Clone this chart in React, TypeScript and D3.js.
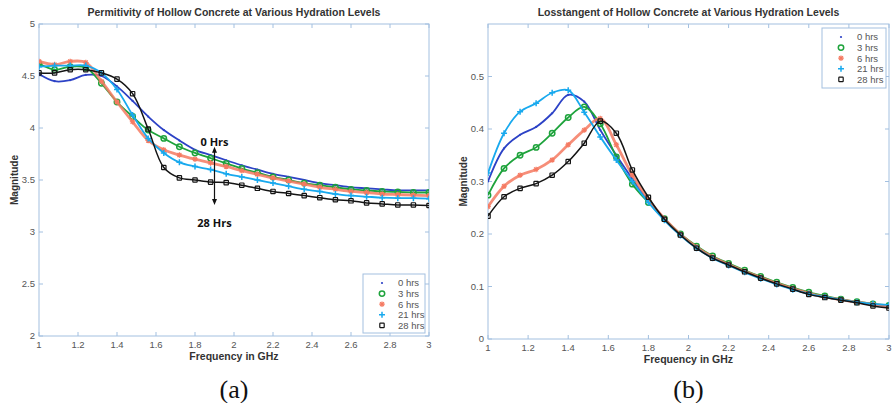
import * as d3 from "d3";
import React from "react";

// frequency grid shared by every curve (GHz)
const freqGHz = [1.0, 1.08, 1.16, 1.24, 1.32, 1.4, 1.48, 1.56, 1.64, 1.72, 1.8, 1.88, 1.96, 2.04, 2.12, 2.2, 2.28, 2.36, 2.44, 2.52, 2.6, 2.68, 2.76, 2.84, 2.92, 3.0];
const hydrationLabels = ["0 hrs", "3 hrs", "6 hrs", "21 hrs", "28 hrs"];

// (a) permittivity
const perm0 = [4.52, 4.45, 4.46, 4.51, 4.5, 4.4, 4.26, 4.11, 3.98, 3.88, 3.79, 3.74, 3.69, 3.64, 3.6, 3.56, 3.53, 3.5, 3.47, 3.45, 3.43, 3.42, 3.41, 3.4, 3.4, 3.4];
const perm3 = [4.62, 4.56, 4.59, 4.58, 4.43, 4.25, 4.11, 3.98, 3.9, 3.82, 3.76, 3.71, 3.66, 3.61, 3.57, 3.53, 3.5, 3.47, 3.45, 3.43, 3.41, 3.4, 3.39, 3.385, 3.38, 3.38];
const perm6 = [4.64, 4.61, 4.64, 4.63, 4.45, 4.25, 4.06, 3.88, 3.79, 3.74, 3.7, 3.665, 3.63, 3.59, 3.555, 3.52, 3.49, 3.46, 3.43, 3.41, 3.39, 3.38, 3.365, 3.36, 3.355, 3.35];
const perm21 = [4.59, 4.6, 4.6, 4.6, 4.53, 4.37, 4.125, 3.9, 3.76, 3.67, 3.63, 3.6, 3.56, 3.53, 3.5, 3.47, 3.44, 3.41, 3.39, 3.365, 3.35, 3.34, 3.33, 3.325, 3.325, 3.32];
const perm28 = [4.53, 4.53, 4.56, 4.56, 4.53, 4.47, 4.33, 3.99, 3.62, 3.52, 3.5, 3.48, 3.475, 3.45, 3.42, 3.39, 3.37, 3.35, 3.33, 3.31, 3.3, 3.28, 3.27, 3.26, 3.26, 3.255];

// (b) loss tangent
const loss0 = [0.3, 0.363, 0.389, 0.404, 0.43, 0.465, 0.452, 0.398, 0.35, 0.305, 0.262, 0.228, 0.199, 0.175, 0.156, 0.142, 0.129, 0.117, 0.106, 0.096, 0.087, 0.08, 0.075, 0.07, 0.066, 0.063];
const loss3 = [0.274, 0.325, 0.35, 0.365, 0.392, 0.422, 0.442, 0.41, 0.347, 0.295, 0.26, 0.229, 0.2, 0.177, 0.158, 0.144, 0.131, 0.119, 0.108, 0.098, 0.089, 0.082, 0.076, 0.071, 0.067, 0.064];
const loss6 = [0.252, 0.291, 0.312, 0.323, 0.341, 0.37, 0.398, 0.42, 0.37, 0.312, 0.266, 0.229, 0.199, 0.175, 0.156, 0.142, 0.129, 0.117, 0.106, 0.096, 0.087, 0.08, 0.075, 0.07, 0.066, 0.062];
const loss21 = [0.316, 0.392, 0.433, 0.449, 0.469, 0.474, 0.432, 0.385, 0.341, 0.3, 0.26, 0.226, 0.197, 0.173, 0.154, 0.14, 0.127, 0.115, 0.104, 0.094, 0.086, 0.08, 0.075, 0.07, 0.067, 0.065];
const loss28 = [0.234, 0.271, 0.287, 0.296, 0.312, 0.338, 0.373, 0.415, 0.392, 0.322, 0.27, 0.228, 0.198, 0.173, 0.154, 0.141, 0.128, 0.116, 0.105, 0.095, 0.085, 0.079, 0.074, 0.069, 0.063, 0.059];

const xTicks = [1, 1.2, 1.4, 1.6, 1.8, 2, 2.2, 2.4, 2.6, 2.8, 3];
const permTicks = [2, 2.5, 3, 3.5, 4, 4.5, 5];
const lossTicks = [0, 0.1, 0.2, 0.3, 0.4, 0.5];

const COLORS = ["#2c42c6", "#1ea33c", "#f57a62", "#18a9ee", "#141414"];
const MARKERS = ["dot", "circle", "star", "plus", "square"];
const LINE_W = [1.8, 1.8, 2.8, 1.8, 1.5];
const FRAME = "#a3c0e0";
const SANS = "'Liberation Sans', Arial, sans-serif";

function Marker({ kind, x, y, color }: { kind: string; x: number; y: number; color: string }) {
  if (kind === "dot") return <circle cx={x} cy={y} r={1.1} fill={color} />;
  if (kind === "circle") return <circle cx={x} cy={y} r={2.7} fill="none" stroke={color} strokeWidth={1.5} />;
  if (kind === "square") return <rect x={x - 2.2} y={y - 2.2} width={4.4} height={4.4} rx={0.6} fill="none" stroke={color} strokeWidth={1.2} />;
  if (kind === "plus")
    return <path d={`M${x - 3},${y}H${x + 3}M${x},${y - 3}V${y + 3}`} stroke={color} strokeWidth={1.5} />;
  // asterisk
  return (
    <path
      d={`M${x - 2.8},${y}H${x + 2.8}M${x},${y - 2.8}V${y + 2.8}M${x - 2},${y - 2}L${x + 2},${y + 2}M${x - 2},${y + 2}L${x + 2},${y - 2}`}
      stroke={color}
      strokeWidth={1.2}
    />
  );
}

type PanelProps = {
  id: string;
  x0: number; y0: number; w: number; h: number;
  yDomain: [number, number];
  yTicks: number[];
  series: number[][];
  title: string;
  legend: { x: number; y: number; w: number; h: number };
  caption: string;
  annotate?: (x: d3.ScaleLinear<number, number>, y: d3.ScaleLinear<number, number>) => React.ReactNode;
};

function Panel(p: PanelProps) {
  const x = d3.scaleLinear().domain([1, 3]).range([p.x0, p.x0 + p.w]);
  const y = d3.scaleLinear().domain(p.yDomain).range([p.y0 + p.h, p.y0]);
  const line = d3
    .line<number>()
    .x((_, i) => x(freqGHz[i]))
    .y(d => y(d))
    .curve(d3.curveCatmullRom.alpha(0.5));
  const cx = p.x0 + p.w / 2;
  const bottom = p.y0 + p.h;
  const right = p.x0 + p.w;

  return (
    <g>
      <clipPath id={`clip-${p.id}`}>
        <rect x={p.x0} y={p.y0} width={p.w} height={p.h} />
      </clipPath>
      <text x={cx} y={16} textAnchor="middle" fontFamily={SANS} fontWeight="bold" fontSize={10.5} fill="#333">
        {p.title}
      </text>

      {/* frame + ticks */}
      <rect x={p.x0} y={p.y0} width={p.w} height={p.h} fill="none" stroke={FRAME} strokeWidth={1} />
      {xTicks.map((t, i) => (
        <g key={`xt${i}`}>
          <line x1={x(t)} x2={x(t)} y1={bottom} y2={bottom - 4} stroke={FRAME} />
          <line x1={x(t)} x2={x(t)} y1={p.y0} y2={p.y0 + 4} stroke={FRAME} />
          <text x={x(t)} y={bottom + 12} textAnchor="middle" fontFamily={SANS} fontSize={9.5} fill="#555">
            {t}
          </text>
        </g>
      ))}
      {p.yTicks.map((t, i) => (
        <g key={`yt${i}`}>
          <line x1={p.x0} x2={p.x0 + 4} y1={y(t)} y2={y(t)} stroke={FRAME} />
          <line x1={right} x2={right - 4} y1={y(t)} y2={y(t)} stroke={FRAME} />
          <text x={p.x0 - 4} y={y(t)} dy="0.35em" textAnchor="end" fontFamily={SANS} fontSize={9.5} fill="#555">
            {t}
          </text>
        </g>
      ))}
      <text x={cx} y={bottom + 24} textAnchor="middle" fontFamily={SANS} fontWeight="bold" fontSize={10.5} fill="#333">
        Frequency in GHz
      </text>
      <text
        transform={`translate(${p.x0 - 21},${p.y0 + p.h / 2}) rotate(-90)`}
        textAnchor="middle"
        fontFamily={SANS}
        fontWeight="bold"
        fontSize={10}
        fill="#333"
      >
        Magnitude
      </text>

      {/* curves */}
      <g clipPath={`url(#clip-${p.id})`}>
        {p.series.map((s, k) => (
          <g key={`s${k}`}>
            <path d={line(s) || ""} fill="none" stroke={COLORS[k]} strokeWidth={LINE_W[k]} strokeOpacity={k === 2 ? 0.85 : 1} />
            {s.map((v, i) => (
              <Marker key={i} kind={MARKERS[k]} x={x(freqGHz[i])} y={y(v)} color={COLORS[k]} />
            ))}
          </g>
        ))}
      </g>

      {p.annotate && p.annotate(x, y)}

      {/* legend */}
      <rect x={p.legend.x} y={p.legend.y} width={p.legend.w} height={p.legend.h} fill="#fff" stroke={FRAME} />
      {hydrationLabels.map((lab, k) => {
        const ry = p.legend.y + 9 + k * 10.6;
        return (
          <g key={`lg${k}`}>
            <Marker kind={MARKERS[k]} x={p.legend.x + 19} y={ry} color={COLORS[k]} />
            <text x={p.legend.x + 35} y={ry} dy="0.35em" fontFamily={SANS} fontSize={9.5} fill="#555">
              {lab}
            </text>
          </g>
        );
      })}

      <text x={cx} y={398} textAnchor="middle" fontFamily="'Liberation Serif', 'Times New Roman', serif" fontSize={26} fill="#111">
        {p.caption}
      </text>
    </g>
  );
}

export default function App() {
  return (
    <div style={{ position: "absolute", left: 0, top: 0 }}>
      <svg width={893} height={403} style={{ display: "block", background: "#fff" }}>
        <Panel
          id="a"
          x0={39} y0={24} w={390} h={312}
          yDomain={[2, 5]}
          yTicks={permTicks}
          series={[perm0, perm3, perm6, perm21, perm28]}
          title="Permitivity of Hollow Concrete at Various Hydration Levels"
          legend={{ x: 363, y: 274, w: 62, h: 59 }}
          caption="(a)"
          annotate={(x, y) => {
            const ax = x(1.9);
            const top = y(3.82);
            const bot = y(3.26);
            return (
              <g>
                <line x1={ax} x2={ax} y1={top + 4} y2={bot - 4} stroke="#111" strokeWidth={1.2} />
                <path d={`M${ax},${top}L${ax - 2.5},${top + 6}L${ax + 2.5},${top + 6}Z`} fill="#111" />
                <path d={`M${ax},${bot}L${ax - 2.5},${bot - 6}L${ax + 2.5},${bot - 6}Z`} fill="#111" />
                <text x={ax} y={y(3.83)} textAnchor="middle" fontFamily="'Open Sans', sans-serif" fontWeight="bold" fontSize={11} fill="#111">
                  0 Hrs
                </text>
                <text x={ax} y={y(3.05)} textAnchor="middle" fontFamily="'Open Sans', sans-serif" fontWeight="bold" fontSize={11} fill="#111">
                  28 Hrs
                </text>
              </g>
            );
          }}
        />
        <Panel
          id="b"
          x0={488} y0={24} w={401} h={315}
          yDomain={[0, 0.6]}
          yTicks={lossTicks}
          series={[loss0, loss3, loss6, loss21, loss28]}
          title="Losstangent of Hollow Concrete at Various Hydration Levels"
          legend={{ x: 822, y: 28, w: 64, h: 60 }}
          caption="(b)"
        />
      </svg>
    </div>
  );
}
